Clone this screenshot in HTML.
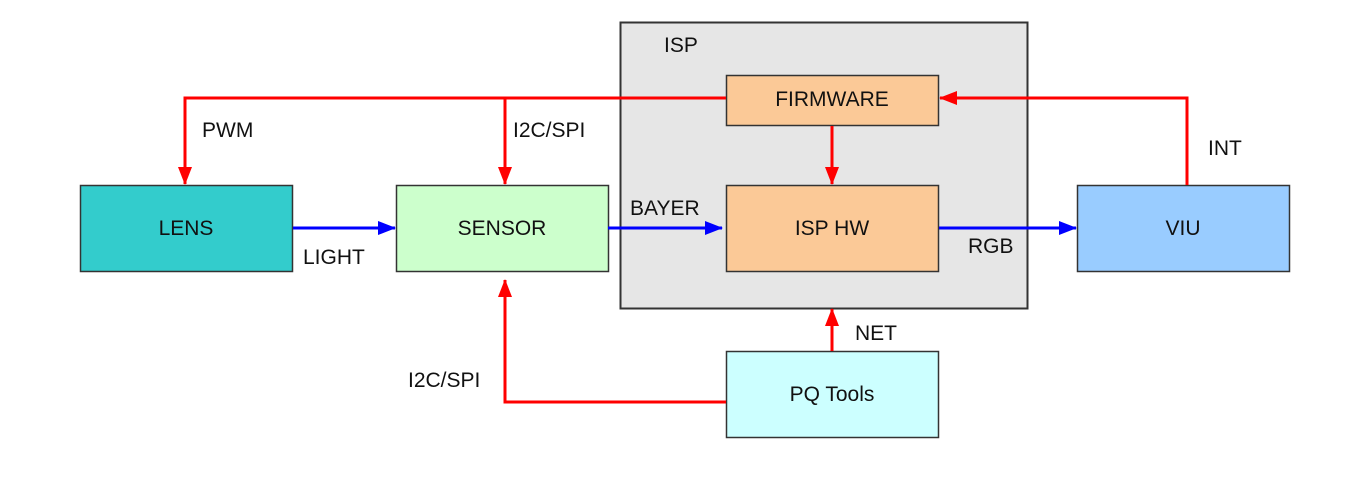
<!DOCTYPE html>
<html><head><meta charset="utf-8"><style>
body{margin:0;background:#fff;}
svg text{font-family:"Liberation Sans",Arial,sans-serif;font-size:21px;fill:#111;}
</style></head><body>
<svg width="1350" height="487" viewBox="0 0 1350 487">
<defs>
<marker id="r" markerWidth="18" markerHeight="14" refX="17" refY="7" orient="auto" markerUnits="userSpaceOnUse"><path d="M0,0 L18,7 L0,14 z" fill="#f00"/></marker>
<marker id="b" markerWidth="18" markerHeight="14" refX="17" refY="7" orient="auto" markerUnits="userSpaceOnUse"><path d="M0,0 L18,7 L0,14 z" fill="#00f"/></marker>
</defs>
<rect x="620.5" y="22.5" width="407" height="286" fill="#e6e6e6" stroke="#333" stroke-width="2"/>
<text x="664" y="52">ISP</text>
<rect x="80.5" y="185.5" width="212" height="86" fill="#33cccc" stroke="#333" stroke-width="1.5"/>
<rect x="396.5" y="185.5" width="212" height="86" fill="#ccffcc" stroke="#333" stroke-width="1.5"/>
<rect x="726.5" y="75.5" width="212" height="50" fill="#fbc997" stroke="#333" stroke-width="1.5"/>
<rect x="726.5" y="185.5" width="212" height="86" fill="#fbc997" stroke="#333" stroke-width="1.5"/>
<rect x="1077.5" y="185.5" width="212" height="86" fill="#99ccff" stroke="#333" stroke-width="1.5"/>
<rect x="726.5" y="351.5" width="212" height="86" fill="#ccffff" stroke="#333" stroke-width="1.5"/>
<g text-anchor="middle">
<text x="186" y="235">LENS</text>
<text x="502" y="235">SENSOR</text>
<text x="832" y="106">FIRMWARE</text>
<text x="832" y="235">ISP HW</text>
<text x="1183" y="235">VIU</text>
<text x="832" y="401">PQ Tools</text>
</g>
<g stroke="#f00" stroke-width="3" fill="none">
<path d="M726,98 H185 V184" marker-end="url(#r)"/>
<path d="M505,98 V184" marker-end="url(#r)"/>
<path d="M1187,185 V98 H940" marker-end="url(#r)"/>
<path d="M832,126 V184" marker-end="url(#r)"/>
<path d="M832,351 V309" marker-end="url(#r)"/>
<path d="M726,402 H505 V280" marker-end="url(#r)"/>
</g>
<g stroke="#00f" stroke-width="3" fill="none">
<path d="M293,228 H395" marker-end="url(#b)"/>
<path d="M608,228 H722" marker-end="url(#b)"/>
<path d="M939,228 H1076" marker-end="url(#b)"/>
</g>
<text x="202" y="137">PWM</text>
<text x="513" y="137">I2C/SPI</text>
<text x="303" y="264">LIGHT</text>
<text x="630" y="215">BAYER</text>
<text x="968" y="253">RGB</text>
<text x="1208" y="155">INT</text>
<text x="855" y="340">NET</text>
<text x="408" y="387">I2C/SPI</text>
</svg>
</body></html>
